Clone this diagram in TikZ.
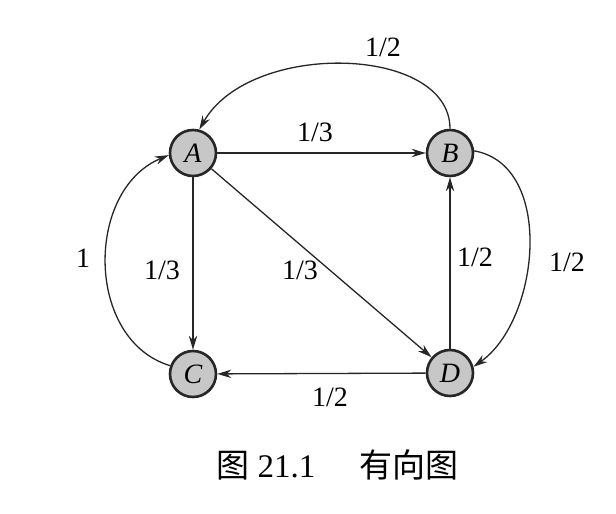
\documentclass[tikz,border=0pt]{standalone}
\usepackage{fontspec}
\setmainfont{Liberation Serif}
\newfontfamily\cjk{Noto Sans CJK SC}
\usetikzlibrary{arrows.meta}
\begin{document}
\begin{tikzpicture}[x=0.5pt,y=-0.5pt,
  vtx/.style={circle,draw=black!85,line width=1.3pt,fill=black!22,minimum size=23pt,inner sep=0pt,font=\fontsize{14}{16}\selectfont\itshape},
  edge/.style={line width=0.65pt,draw=black!85,-{Stealth[length=7pt,width=4.2pt]}},
  lbl/.style={font=\fontsize{14}{16}\selectfont,inner sep=0pt}]
\useasboundingbox (0,0) rectangle (616,514);
\node[vtx] (A) at (193,153) {A};
\node[vtx] (B) at (450,153) {B};
\node[vtx] (C) at (193,374) {C};
\node[vtx] (D) at (450,373) {D};
\draw[edge] (A) -- (B);
\draw[edge] (A) -- (C);
\draw[edge] (A) -- (D);
\draw[edge] (D) -- (B);
\draw[edge] (D) -- (C);
\draw[edge] (B.north) .. controls (450,45) and (250,40) .. (A.75);
\draw[edge] (C.160) .. controls (85,340) and (85,190) .. (A.185);
\draw[edge] (B.5) .. controls (555,165) and (540,320) .. (D.15);
\node[lbl] (l1) at (383,47) {1/2};
\node[lbl] (l2) at (315,132) {1/3};
\node[lbl] (l3) at (162,270) {1/3};
\node[lbl] (l4) at (300,270) {1/3};
\node[lbl] (l5) at (475,257) {1/2};
\node[lbl] (l6) at (567,262) {1/2};
\node[lbl] (l7) at (330,397) {1/2};
\node[lbl] (l8) at (83,258) {1};
\node[lbl,anchor=west,font=\fontsize{16.5}{18}\selectfont] (cap) at (216,465) {{\cjk 图}\ 21.1\hspace{22pt}{\cjk 有向图}};
\end{tikzpicture}
\end{document}
